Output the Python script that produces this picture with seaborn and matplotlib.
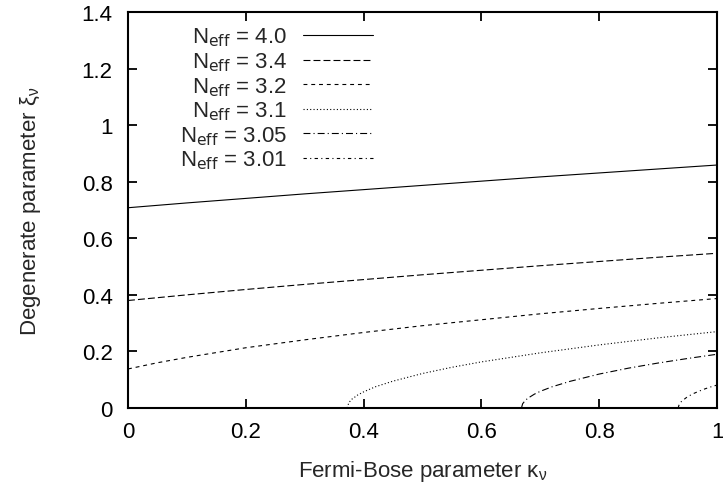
import numpy as np
import pandas as pd
import matplotlib
matplotlib.use("Agg")
import matplotlib.pyplot as plt
from matplotlib.ticker import FuncFormatter, MultipleLocator
import seaborn as sns

# Curvas de nivel de N_eff no plano (kappa, xi).
kappa_40 = [0.0, 0.1, 0.2, 0.3, 0.4, 0.5, 0.6, 0.7, 0.8, 0.9, 1.0]
xi_40 = [0.708, 0.725, 0.741, 0.757, 0.772, 0.787, 0.802, 0.817, 0.831, 0.845, 0.859]

kappa_34 = [0.0, 0.1, 0.2, 0.3, 0.4, 0.5, 0.6, 0.7, 0.8, 0.9, 1.0]
xi_34 = [0.380, 0.400, 0.419, 0.437, 0.454, 0.471, 0.487, 0.503, 0.518, 0.533, 0.547]

kappa_32 = [0.0, 0.05, 0.1, 0.2, 0.3, 0.4, 0.5, 0.6, 0.7, 0.8, 0.9, 1.0]
xi_32 = [0.138, 0.160, 0.179, 0.213, 0.241, 0.267, 0.291, 0.312, 0.333, 0.352, 0.370, 0.387]

kappa_31 = [0.372, 0.375, 0.38, 0.39, 0.40, 0.42, 0.45, 0.5, 0.55, 0.6, 0.7, 0.8, 0.9, 1.0]
xi_31 = [0.0, 0.019, 0.031, 0.046, 0.057, 0.075, 0.095, 0.122, 0.144, 0.163, 0.195, 0.223, 0.248, 0.270]

kappa_305 = [0.668, 0.67, 0.675, 0.68, 0.69, 0.70, 0.72, 0.75, 0.8, 0.85, 0.9, 0.95, 1.0]
xi_305 = [0.0, 0.015, 0.028, 0.036, 0.049, 0.059, 0.075, 0.094, 0.120, 0.141, 0.159, 0.175, 0.190]

kappa_301 = [0.934, 0.936, 0.94, 0.95, 0.96, 0.97, 0.98, 0.99, 1.0]
xi_301 = [0.0, 0.014, 0.024, 0.040, 0.051, 0.060, 0.068, 0.075, 0.081]

rotulos = [r"N$_{\rm eff}$ = 4.0", r"N$_{\rm eff}$ = 3.4", r"N$_{\rm eff}$ = 3.2",
           r"N$_{\rm eff}$ = 3.1", r"N$_{\rm eff}$ = 3.05", r"N$_{\rm eff}$ = 3.01"]
curvas = [(kappa_40, xi_40), (kappa_34, xi_34), (kappa_32, xi_32),
          (kappa_31, xi_31), (kappa_305, xi_305), (kappa_301, xi_301)]

# tracejados estilo gnuplot (em pontos)
tracos = {
    rotulos[0]: "",
    rotulos[1]: (5.0, 2.2),
    rotulos[2]: (2.8, 2.8),
    rotulos[3]: (0.8, 1.6),
    rotulos[4]: (5.0, 2.2, 0.8, 2.2),
    rotulos[5]: (2.4, 2.4, 0.8, 2.4),
}

frames = []
for rot, (k, x) in zip(rotulos, curvas):
    frames.append(pd.DataFrame({"kappa": k, "xi": x, "curva": rot}))
dados = pd.concat(frames, ignore_index=True)

sns.set_style("ticks")
plt.rcParams["font.family"] = ["Liberation Sans", "DejaVu Sans"]
plt.rcParams["mathtext.default"] = "regular"
plt.rcParams["lines.scale_dashes"] = False

FS = 16

fig = plt.figure(figsize=(7.23, 4.89), dpi=100)
ax = fig.add_axes([128 / 723, 1 - 409 / 489, 589 / 723, 396 / 489])

sns.lineplot(data=dados, x="kappa", y="xi", style="curva", style_order=rotulos,
             dashes=tracos, color="black", linewidth=0.8, sort=False,
             estimator=None, ax=ax)

ax.set_xlim(0, 1)
ax.set_ylim(0, 1.4)
ax.xaxis.set_major_locator(MultipleLocator(0.2))
ax.yaxis.set_major_locator(MultipleLocator(0.2))
fmt = FuncFormatter(lambda v, p: "%g" % round(v, 2))
ax.xaxis.set_major_formatter(fmt)
ax.yaxis.set_major_formatter(fmt)
ax.tick_params(direction="in", length=6.5, width=1.3, top=True, right=True,
               labelsize=FS, colors="black")
ax.tick_params(axis="x", pad=9.5)
ax.tick_params(axis="y", pad=11)
for s in ax.spines.values():
    s.set_linewidth(1.5)
    s.set_color("black")

ax.set_xlabel(r"Fermi-Bose parameter $\kappa_\nu$", fontsize=FS, labelpad=11.5)
ax.set_ylabel(r"Degenerate parameter $\xi_\nu$", fontsize=FS, labelpad=28)

handles, labels = ax.get_legend_handles_labels()
leg = ax.legend(handles, labels, loc="upper right", bbox_to_anchor=(0.416, 0.965),
                markerfirst=False, frameon=False, fontsize=FS, handlelength=3.15,
                handletextpad=0.72, labelspacing=0.09, borderpad=0, borderaxespad=0)

fig.savefig("out.png", dpi=100)
